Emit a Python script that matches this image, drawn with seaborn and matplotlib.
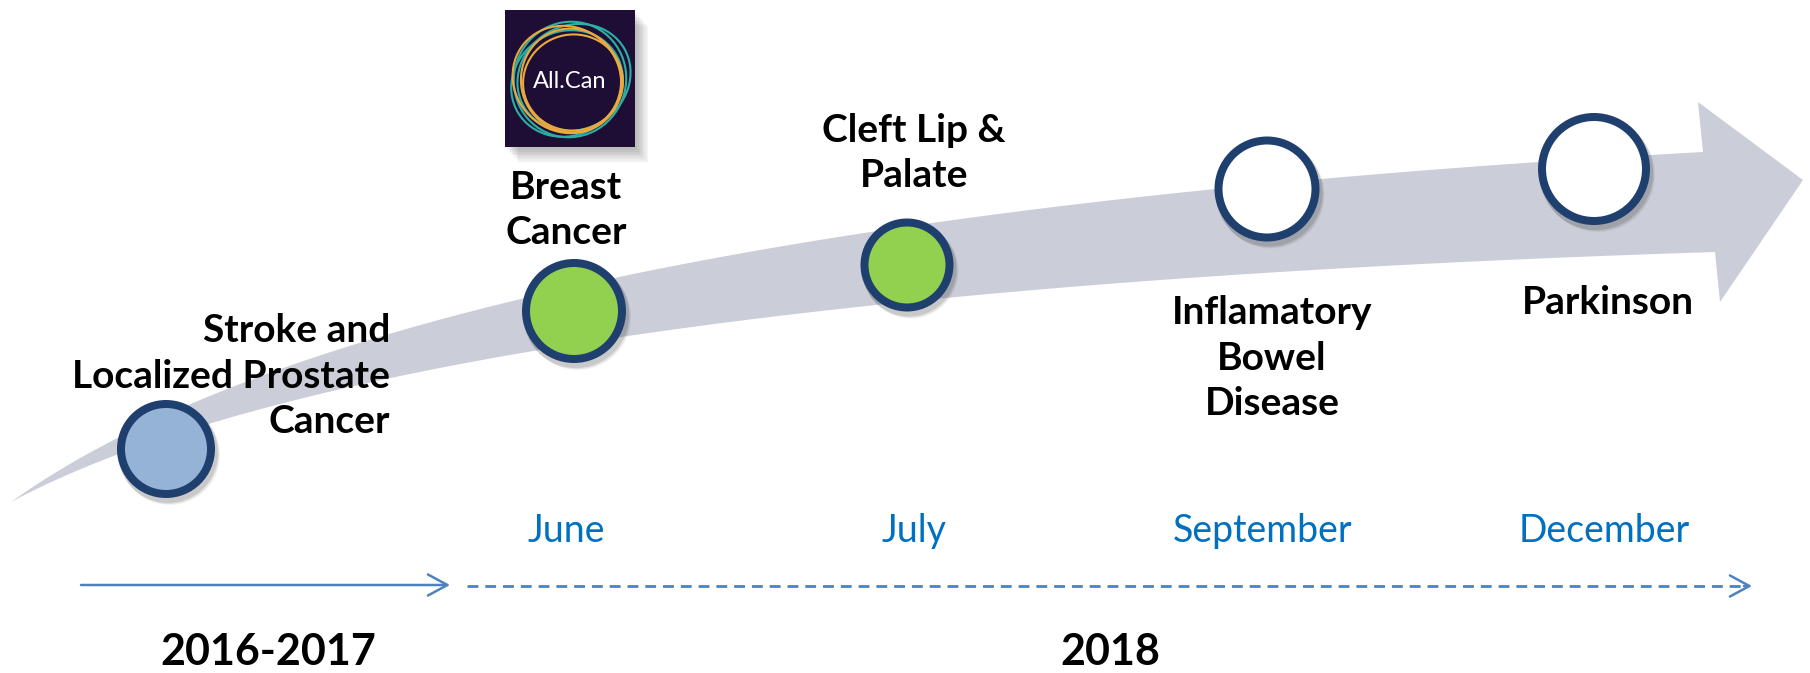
import numpy as np
import pandas as pd
import matplotlib
matplotlib.use('Agg')
import matplotlib.pyplot as plt
from matplotlib.patches import Rectangle, Ellipse, Polygon
import seaborn as sns

# 1. data
events = ['Stroke and\nLocalized Prostate\nCancer', 'Breast\nCancer', 'Cleft Lip &\nPalate',
          'Inflamatory\nBowel\nDisease', 'Parkinson']
event_x = [166, 574, 907, 1267, 1594]
event_y = [449, 311, 265, 189, 169]
status = ['2016-2017', 'done', 'done', 'planned', 'planned']

months = ['June', 'July', 'September', 'December']
month_x = [566, 914, 1263, 1604]

periods = ['2016-2017', '2018']
period_x = [268, 1110]
period_start = [81, 467]
period_end = [450, 1752]

# 2. layout / style
W, H = 1810, 673
label_x = [390, 566, 914, 1272, 1608]
label_y = [376, 210, 153, 358, 302]
label_ha = ['right', 'center', 'center', 'center', 'center']
radius = [49, 52, 46.5, 52.5, 56]
edge_px = 8
status_colors = {'2016-2017': '#95B3D7', 'done': '#92D050', 'planned': '#FFFFFF'}
edge_color = '#1F3F6E'
band_color = '#CBCED8'
blue = '#4F81BD'
month_color = '#0070C0'

sns.set_theme(style='white')
plt.rcParams['font.family'] = ['Lato', 'DejaVu Sans']

fig = plt.figure(figsize=(W / 100, H / 100), dpi=100)
ax = fig.add_axes([0, 0, 1, 1])


def bezier(p0, c, p2, n=200):
    t = np.linspace(0, 1, n)[:, None]
    return (1 - t) ** 2 * np.array(p0) + 2 * t * (1 - t) * np.array(c) + t ** 2 * np.array(p2)


# 3. curved arrow band
upper = bezier((11, 502), (400, 223), (1703, 152))
lower = bezier((11, 502), (400, 294), (1715, 252))
head = np.array([(1698, 102), (1803, 180), (1720, 302)])
band = np.vstack([upper, head, lower[::-1]])
ax.add_patch(Polygon(band, closed=True, facecolor=band_color, edgecolor='none', zorder=1))

# 4. logo
lx0, ly0, lw_, lh_ = 505, 10, 130, 137
for k in range(8):
    ax.add_patch(Rectangle((lx0 + 2 + k * 1.6, ly0 + 3 + k * 1.8), lw_, lh_,
                           facecolor='black', alpha=0.035, edgecolor='none', zorder=2))
ax.add_patch(Rectangle((lx0, ly0), lw_, lh_, facecolor='#1E0E36', edgecolor='none', zorder=3))
lcx, lcy = lx0 + lw_ / 2, ly0 + lh_ / 2 + 1
rings = [(0, 0, 112, 116, 20, '#2BB0A4'), (4, -2, 116, 104, -30, '#2BB0A4'),
         (-3, 4, 104, 114, 60, '#2BB0A4'), (1, 1, 100, 104, -10, '#EAA93E'),
         (-3, 0, 112, 104, 40, '#EAA93E'), (3, 3, 96, 100, 80, '#EAA93E')]
for dx, dy, ew, eh, ang, col in rings:
    ax.add_patch(Ellipse((lcx + dx, lcy + dy), ew, eh, angle=ang, fill=False,
                         edgecolor=col, lw=1.5, zorder=4))
ax.text(lcx, lcy + 2, 'All.Can', color='white', fontsize=17, ha='center', va='center', zorder=5)

# 5. event circles
df = pd.DataFrame({'event': events, 'x': event_x, 'y': event_y, 'status': status})
sizes = {e: (2 * (r - edge_px / 2) * 0.72) ** 2 for e, r in zip(events, radius)}
shadow_sizes = {e: (2 * (r + 1) * 0.72) ** 2 for e, r in zip(events, radius)}
for k, a in enumerate([0.10, 0.07, 0.05]):
    sh = df.assign(x=df['x'] + 2 + k, y=df['y'] + 4 + k)
    sns.scatterplot(data=sh, x='x', y='y', size='event', sizes=shadow_sizes, color='black',
                    alpha=a, linewidth=0, legend=False, ax=ax, zorder=5)
sns.scatterplot(data=df, x='x', y='y', hue='status', palette=status_colors, size='event',
                sizes=sizes, edgecolor=edge_color, linewidth=edge_px * 0.72, legend=False,
                ax=ax, zorder=6)
ax.set_xlim(0, W)
ax.set_ylim(H, 0)
ax.axis('off')

for txt, x, y, ha in zip(events, label_x, label_y, label_ha):
    ax.text(x, y, txt, fontsize=28, fontweight='bold', color='black', ha=ha, va='center',
            multialignment=ha, linespacing=1.36, zorder=7)

# 6. months and period arrows
for m, x in zip(months, month_x):
    ax.text(x, 531, m, fontsize=27, color=month_color, ha='center', va='center')

ax.annotate('', xy=(period_end[0], 585), xytext=(period_start[0], 585),
            arrowprops=dict(arrowstyle='->,head_length=0.7,head_width=0.38', color=blue,
                            lw=1.8, mutation_scale=20, shrinkA=0, shrinkB=0))
ax.plot([period_start[1], period_end[1] - 6], [586, 586], color=blue, lw=2.0,
        dashes=(3.9, 2.5), solid_capstyle='butt')
ax.annotate('', xy=(period_end[1], 586), xytext=(period_end[1] - 8, 586),
            arrowprops=dict(arrowstyle='->,head_length=0.7,head_width=0.38', color=blue,
                            lw=1.8, mutation_scale=20, shrinkA=0, shrinkB=0))

for p, x in zip(periods, period_x):
    ax.text(x, 652, p, fontsize=31, fontweight='bold', color='black', ha='center', va='center')

fig.savefig('out.png', dpi=100, facecolor='white')
